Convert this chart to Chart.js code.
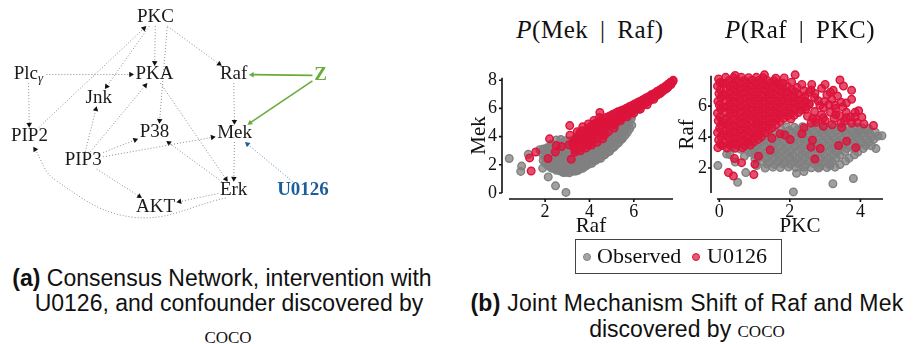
<!DOCTYPE html>
<html>
<head>
<meta charset="utf-8">
<title>Consensus network and joint mechanism shift</title>
<script src="https://cdn.jsdelivr.net/npm/chart.js@4.4.1/dist/chart.umd.min.js"></script>
<style>
  body { margin: 0; background: #fff; }
  #page { position: relative; width: 913px; height: 344px; overflow: hidden; color: #111; }
  canvas { position: absolute; }
  #network { left: 0; top: 0; }
  #mekRaf { left: 460px; top: 55px; }
  #rafPkc { left: 670px; top: 55px; }
  .plot-title { position: absolute; top: 17px; width: 220px; text-align: center; white-space: nowrap;
    font: 25px "Liberation Serif", "Times New Roman", serif; line-height: 1; letter-spacing: 0.5px; word-spacing: 5px; }
  .caption { position: absolute; width: 600px; text-align: center; white-space: nowrap;
    font: 23px "Liberation Sans", sans-serif; line-height: 1; }
  .sc { font: 24px "Liberation Serif", "Times New Roman", serif; font-variant: small-caps; }
  #legend { position: absolute; left: 575px; top: 239px; width: 207px; height: 35px; box-sizing: border-box;
    border: 1px solid #444; font: 22px "Liberation Serif", "Times New Roman", serif; line-height: 1; }
  #legend span { position: absolute; }
  .dot { width: 6px; height: 6px; border-radius: 50%; border: 1.3px solid; }
</style>
</head>
<body>
<div id="page">
  <canvas id="network" width="350" height="230"></canvas>
  <canvas id="mekRaf" width="225" height="185"></canvas>
  <canvas id="rafPkc" width="243" height="185"></canvas>

  <div class="plot-title" style="left:480px"><i>P</i>(Mek | Raf)</div>
  <div class="plot-title" style="left:690px"><i>P</i>(Raf | PKC)</div>

  <div id="legend">
    <span class="dot" style="left:7px;top:13px;background:rgba(128,128,128,0.7);border-color:#808080"></span>
    <span style="left:21px;top:5px">Observed</span>
    <span class="dot" style="left:116px;top:13px;background:rgba(220,20,60,0.7);border-color:#dc143c"></span>
    <span style="left:131px;top:5px">U0126</span>
  </div>

  <div class="caption" style="left:-78px;top:267px"><b>(a)</b> Consensus Network, intervention with</div>
  <div class="caption" style="left:-71px;top:292px">U0126, and confounder discovered by</div>
  <div class="caption sc" style="left:-72px;top:322px">coco</div>
  <div class="caption" style="left:387px;top:292px;letter-spacing:0.25px"><b>(b)</b> Joint Mechanism Shift of Raf and Mek</div>
  <div class="caption" style="left:387px;top:316px">discovered by <span class="sc">coco</span></div>
</div>

<script>
const SERIF = '"Liberation Serif", "Times New Roman", serif';

// ---------- network: node layout and edges ----------
const nodeNames = ['PKC', 'Plcγ', 'PKA', 'Raf', 'Z', 'Jnk', 'PIP2', 'P38', 'Mek', 'PIP3', 'Erk', 'U0126', 'AKT'];
const nodeX = [155, 25, 154, 235, 324, 97, 26, 154, 236, 81, 235, 306, 155];
const nodeY = [14, 73, 73, 73, 74, 97, 137, 133, 134, 162, 193, 193, 210];

const causalEdges = [
  ['PKC', 'PKA'], ['PKC', 'Raf'], ['PKC', 'Jnk'], ['PKC', 'P38'], ['PIP2', 'PKC'],
  ['Plcγ', 'PKA'], ['Plcγ', 'PIP2'], ['PKA', 'Erk'], ['Raf', 'Mek'], ['Mek', 'Erk'],
  ['PIP3', 'Jnk'], ['PIP3', 'PKA'], ['PIP3', 'P38'], ['PIP3', 'Mek'], ['PIP3', 'AKT'],
  ['Erk', 'P38'], ['Erk', 'AKT'], ['Erk', 'PIP2']
];
const confounderEdges = [['Z', 'Raf'], ['Z', 'Mek']];
const interventionEdges = [['U0126', 'Mek']];

// edges that leave / enter a label off-centre or bend around the others
const edgeRouting = {
  'PKC>P38': { tail: [12, 10], head: [5, -9] },
  'Erk>PIP2': { tail: [-8, 8], via: [[133, 221], [52, 182]], head: [4, 11] }
};

// ---------- scatter data: (Raf, Mek) ----------
const rafTicks = [2, 4, 6];
const mekTicks = [0, 2, 4, 6, 8];

const obsRafMek = [
  // stray observations
  [0.38,2.45],[0.94,1.91],[0.90,1.53],[1.24,2.74],[1.76,3.07],[1.89,1.76],[2.14,1.14],[2.47,0.51],
  [2.94,0.04],[2.82,1.45],[3.39,1.56],[3.80,1.89],[5.45,4.46],[5.38,3.94],[5.90,5.50],[6.23,5.92],
  // main cloud
  [1.91,2.31],[1.89,2.74],[1.92,3.12],
  [2.11,1.96],[2.09,2.41],[2.12,2.84],[2.10,3.21],
  [2.29,1.76],[2.31,2.19],[2.28,2.66],[2.31,3.09],[2.29,3.46],
  [2.51,1.61],[2.49,2.06],[2.52,2.49],[2.50,2.96],[2.48,3.39],[2.51,3.76],
  [2.69,1.56],[2.71,1.99],[2.70,2.46],[2.72,2.89],[2.69,3.36],[2.71,3.79],
  [2.91,1.46],[2.89,1.91],[2.92,2.34],[2.90,2.81],[2.88,3.24],[2.91,3.71],
  [3.09,1.44],[3.11,1.91],[3.10,2.36],[3.12,2.79],[3.09,3.26],[3.11,3.69],
  [3.31,1.56],[3.29,1.99],[3.32,2.46],[3.30,2.89],[3.28,3.36],[3.31,3.79],
  [3.49,1.61],[3.51,2.06],[3.50,2.49],[3.52,2.96],[3.49,3.41],[3.51,3.84],
  [3.71,1.76],[3.69,2.21],[3.72,2.64],[3.70,3.11],[3.68,3.54],[3.71,4.01],
  [3.89,1.96],[3.91,2.39],[3.90,2.86],[3.92,3.29],[3.89,3.76],[3.91,4.14],
  [4.11,2.11],[4.09,2.56],[4.12,2.99],[4.10,3.46],[4.08,3.89],[4.11,4.31],
  [4.29,2.31],[4.31,2.74],[4.30,3.21],[4.32,3.64],[4.29,4.11],[4.31,4.44],
  [4.51,2.46],[4.49,2.91],[4.52,3.34],[4.50,3.81],[4.48,4.24],[4.51,4.61],
  [4.69,2.71],[4.71,3.14],[4.70,3.61],[4.72,4.04],[4.69,4.51],
  [4.91,2.96],[4.89,3.39],[4.92,3.86],[4.90,4.29],[4.88,4.76],
  [5.11,3.26],[5.09,3.69],[5.12,4.16],[5.10,4.59],[5.08,5.01],
  [5.31,3.56],[5.29,4.01],[5.32,4.44],[5.30,4.91],
  [5.49,3.86],[5.51,4.29],[5.50,4.76],[5.52,5.14],
  [5.71,4.31],[5.69,4.76],[5.72,5.19],
  [5.91,4.81],[5.89,5.29],
  [2.01,2.12],[1.99,2.57],[2.02,2.98],
  [2.21,1.88],[2.19,2.36],[2.22,2.79],[2.20,3.27],
  [2.41,1.74],[2.39,2.21],[2.42,2.63],[2.40,3.12],
  [2.61,1.66],[2.59,2.09],[2.62,2.56],[2.60,2.98],
  [2.81,1.54],[2.79,2.02],[2.82,2.44],[2.80,2.91],
  [3.01,1.52],[2.99,1.94],[3.02,2.41],[3.00,2.84],
  [3.21,1.54],[3.19,2.02],[3.22,2.44],[3.20,2.92],
  [3.41,1.66],[3.39,2.09],[3.42,2.56],[3.40,2.98],
  [3.61,1.74],[3.59,2.22],[3.62,2.64],[3.60,3.12],
  [3.81,1.96],[3.79,2.39],[3.82,2.86],[3.80,3.28],
  [4.01,2.09],[3.99,2.56],[4.02,2.98],[4.00,3.46],
  [4.21,2.31],[4.19,2.74],[4.22,3.21],[4.20,3.63],
  [4.41,2.44],[4.39,2.92],[4.42,3.34],[4.40,3.81],
  [4.61,2.66],[4.59,3.09],[4.62,3.56],[4.60,3.98],
  [4.81,2.89],[4.79,3.36],[4.82,3.78],[4.80,4.26],
  [5.01,3.16],[4.99,3.58],[5.02,4.06],[5.00,4.48],
  [5.21,3.44],[5.19,3.91],[5.22,4.33],[5.20,4.81],
  [5.41,3.76],[5.39,4.18],[5.42,4.66],
  [5.61,4.09],[5.59,4.56],[5.62,4.98],
  [5.81,4.56],[5.79,4.98]
];

const u0126RafMek = [
  // stray intervened samples
  [1.30,2.49],[1.37,1.56],[1.58,2.91],[2.13,2.45],[2.20,3.84],[2.50,3.36],[2.46,2.91],[3.18,2.39],
  [3.11,4.78],[3.08,3.42],[3.12,4.10],[3.95,3.40],[4.47,5.71],[4.70,4.14],[5.15,4.85],[5.60,5.47],[2.74,3.30],
  [3.45,4.35],[3.70,4.70],[3.95,4.90],[4.20,5.15],[4.45,5.35],[3.35,2.90],[3.60,3.00],[3.85,3.20],
  [4.10,3.40],[4.35,3.60],[4.60,3.85],[3.25,3.50],[3.40,3.85],
  // tight band along Mek ~ Raf
  [3.30,3.22],[3.31,3.71],[3.42,3.52],[3.44,3.96],[3.55,3.41],[3.54,3.83],[3.57,4.27],[3.68,3.66],[3.69,4.06],[3.66,4.41],
  [3.80,3.57],[3.82,3.92],[3.79,4.31],[3.93,3.81],[3.94,4.16],[3.91,4.56],[4.05,3.96],[4.06,4.36],[4.04,4.71],
  [4.18,4.12],[4.19,4.51],[4.17,4.86],[4.30,4.26],[4.31,4.62],[4.29,4.96],[4.43,4.37],[4.44,4.73],[4.42,5.06],
  [4.55,4.51],[4.56,4.86],[4.54,5.16],[4.68,4.62],[4.69,4.96],[4.67,5.31],[4.80,4.71],[4.81,5.06],[4.79,5.38],
  [4.93,4.86],[4.94,5.21],[4.92,5.46],[5.05,4.96],[5.06,5.31],[5.04,5.56],[5.18,5.06],[5.19,5.41],[5.17,5.66],
  [5.30,5.21],[5.31,5.51],[5.29,5.76],[5.43,5.31],[5.44,5.61],[5.42,5.83],[5.55,5.43],[5.56,5.71],[5.54,5.91],
  [5.68,5.56],[5.69,5.81],[5.67,6.01],[5.80,5.66],[5.81,5.91],[5.79,6.11],[5.93,5.79],[5.94,6.03],[5.92,6.21],
  [6.05,5.91],[6.06,6.13],[6.04,6.31],[6.18,6.01],[6.19,6.26],[6.17,6.41],[6.30,6.16],[6.31,6.36],[6.29,6.51],
  [6.43,6.26],[6.44,6.49],[6.42,6.61],[6.55,6.39],[6.56,6.61],[6.54,6.73],[6.68,6.51],[6.69,6.73],[6.67,6.83],
  [6.80,6.66],[6.81,6.86],[6.79,6.96],[6.93,6.81],[6.94,6.99],[6.92,7.06],[7.05,6.93],[7.06,7.11],[7.04,7.19],
  [7.18,7.06],[7.19,7.23],[7.17,7.31],[7.30,7.21],[7.31,7.36],[7.29,7.43],[7.43,7.36],[7.44,7.49],[7.42,7.56],
  [7.55,7.51],[7.56,7.63],[7.54,7.71],[7.68,7.69],[7.67,7.79],[7.66,7.86],[7.76,7.91],[7.78,7.99],
  [3.36,3.05],[3.61,3.21],[3.86,3.42],[4.11,3.62],[4.36,3.86],[4.61,4.11],[4.86,4.36],[5.11,4.61],
  [5.40,5.12],[5.70,5.40],[6.00,5.66],[6.30,5.95],[6.60,6.26],[6.90,6.64],[7.20,7.08],[7.50,7.44]
];

// ---------- scatter data: (PKC, Raf) ----------
const pkcTicks = [0, 2, 4];
const rafAxisTicks = [2, 4, 6];

const obsPkcRaf = [
  // stray observations
  [-0.04,2.16],[0.52,1.08],[0.75,1.71],[2.10,0.46],[2.19,1.66],[2.40,1.78],[3.22,0.99],[3.80,1.33],
  [4.44,3.26],[4.61,4.09],[4.42,4.32],[4.23,4.55],[4.04,4.61],[3.90,4.22],[1.30,2.00],[0.30,2.87],
  [0.45,2.39],[2.81,2.00],[3.14,2.16],[1.06,2.16],
  [0.21,2.91],[0.36,3.36],[0.61,3.21],[0.71,2.76],[0.86,3.01],[1.01,2.61],[0.46,3.60],[0.75,3.50],
  // main cloud
  [1.52,2.06],[1.73,2.03],[1.96,2.07],[2.17,2.04],[2.40,2.06],[2.61,2.02],[2.84,2.07],[3.05,2.04],[3.28,2.06],
  [1.36,2.26],[1.58,2.23],[1.81,2.27],[2.02,2.24],[2.25,2.26],[2.46,2.22],[2.69,2.27],[2.90,2.24],[3.13,2.26],[3.42,2.23],
  [1.21,2.46],[1.43,2.43],[1.66,2.47],[1.87,2.44],[2.10,2.46],[2.31,2.42],[2.54,2.47],[2.75,2.44],[2.98,2.46],[3.19,2.43],[3.58,2.45],
  [1.11,2.66],[1.32,2.63],[1.55,2.67],[1.76,2.64],[1.99,2.66],[2.20,2.62],[2.43,2.67],[2.64,2.64],[2.87,2.66],[3.08,2.63],[3.31,2.66],[3.68,2.64],
  [1.01,2.86],[1.22,2.83],[1.45,2.87],[1.66,2.84],[1.89,2.86],[2.10,2.82],[2.33,2.87],[2.54,2.84],[2.77,2.86],[2.98,2.83],[3.21,2.86],[3.42,2.83],[3.83,2.86],
  [0.91,3.06],[1.13,3.03],[1.36,3.07],[1.57,3.04],[1.80,3.06],[2.01,3.02],[2.24,3.07],[2.45,3.04],[2.68,3.06],[2.89,3.03],[3.12,3.06],[3.33,3.03],[3.56,3.06],[3.93,3.04],
  [0.96,3.26],[1.18,3.23],[1.41,3.27],[1.62,3.24],[1.85,3.26],[2.06,3.22],[2.29,3.27],[2.50,3.24],[2.73,3.26],[2.94,3.23],[3.17,3.26],[3.38,3.23],[3.61,3.26],[3.82,3.23],[4.08,3.26],
  [1.06,3.46],[1.28,3.43],[1.51,3.47],[1.72,3.44],[1.95,3.46],[2.16,3.42],[2.39,3.47],[2.60,3.44],[2.83,3.46],[3.04,3.43],[3.27,3.46],[3.48,3.43],[3.71,3.46],[3.92,3.43],[4.15,3.46],[4.31,3.44],
  [1.16,3.66],[1.38,3.63],[1.61,3.67],[1.82,3.64],[2.05,3.66],[2.26,3.62],[2.49,3.67],[2.70,3.64],[2.93,3.66],[3.14,3.63],[3.37,3.66],[3.58,3.63],[3.81,3.66],[4.02,3.63],[4.25,3.66],
  [1.31,3.86],[1.53,3.83],[1.76,3.87],[1.97,3.84],[2.20,3.86],[2.41,3.82],[2.64,3.87],[2.85,3.84],[3.08,3.86],[3.29,3.83],[3.52,3.86],[3.73,3.83],[3.96,3.86],[4.17,3.83],[4.38,3.86],
  [1.46,4.06],[1.68,4.03],[1.91,4.07],[2.12,4.04],[2.35,4.06],[2.56,4.02],[2.79,4.07],[3.00,4.04],[3.23,4.06],[3.44,4.03],[3.67,4.06],[3.88,4.03],[4.11,4.06],[4.32,4.03],[4.50,4.06],
  [1.61,4.26],[1.83,4.23],[2.06,4.27],[2.27,4.24],[2.50,4.26],[2.71,4.22],[2.94,4.27],[3.15,4.24],[3.38,4.26],[3.59,4.23],[3.82,4.26],[4.03,4.23],[4.26,4.26],
  [1.76,4.46],[1.98,4.43],[2.21,4.47],[2.42,4.44],[2.65,4.46],[2.86,4.42],[3.09,4.47],[3.30,4.44],[3.53,4.46],[3.74,4.43],[3.97,4.46],[4.18,4.43],
  [1.91,4.66],[2.13,4.63],[2.36,4.67],[2.57,4.64],[2.80,4.66],[3.01,4.62],[3.24,4.67],[3.45,4.64],[3.68,4.66],[3.92,4.63]
];

const u0126PkcRaf = [
  // samples piled up at PKC ~ 0
  [-0.04,3.32],[0.03,3.55],[-0.02,3.81],[0.05,4.04],[-0.05,4.29],[0.01,4.57],[0.06,4.79],[-0.03,5.06],
  [0.02,5.31],[-0.05,5.54],[0.04,5.82],[0.00,6.07],[-0.04,6.31],[0.05,6.56],[-0.01,6.82],[0.03,7.06],
  [-0.05,7.29],[0.02,7.53],[-0.02,7.76],[0.09,3.46],[0.11,4.22],[0.08,5.02],[0.12,5.93],[0.10,6.71],[0.09,7.48],
  // dense block at low PKC
  [0.18,7.86],[0.40,7.83],[0.62,7.87],[0.83,7.84],[1.05,7.86],[1.24,7.83],
  [0.28,7.66],[0.50,7.68],[0.71,7.64],[0.93,7.67],[1.12,7.65],[1.35,7.68],[1.55,7.64],
  [0.19,7.47],[0.39,7.45],[0.61,7.49],[0.80,7.46],[1.03,7.48],[1.22,7.45],[1.44,7.49],[1.63,7.46],[1.80,7.48],
  [0.30,7.28],[0.49,7.30],[0.72,7.26],[0.91,7.29],[1.13,7.27],[1.32,7.30],[1.53,7.26],[1.74,7.29],[1.93,7.27],
  [0.20,7.09],[0.41,7.07],[0.60,7.11],[0.82,7.08],[1.01,7.10],[1.23,7.07],[1.42,7.11],[1.64,7.08],[1.83,7.10],[2.05,7.07],
  [0.29,6.90],[0.51,6.92],[0.70,6.88],[0.92,6.91],[1.11,6.89],[1.33,6.92],[1.52,6.88],[1.74,6.91],[1.93,6.89],[2.15,6.92],
  [0.18,6.71],[0.40,6.69],[0.61,6.73],[0.81,6.70],[1.02,6.72],[1.22,6.69],[1.43,6.73],[1.62,6.70],[1.84,6.72],[2.03,6.69],[2.25,6.73],
  [0.30,6.52],[0.50,6.54],[0.71,6.50],[0.92,6.53],[1.12,6.51],[1.33,6.54],[1.52,6.50],[1.73,6.53],[1.94,6.51],[2.13,6.54],[2.35,6.50],
  [0.20,6.33],[0.39,6.31],[0.60,6.35],[0.82,6.32],[1.01,6.34],[1.22,6.31],[1.43,6.35],[1.63,6.32],[1.82,6.34],[2.04,6.31],[2.24,6.35],[2.45,6.32],
  [0.29,6.14],[0.50,6.16],[0.70,6.12],[0.91,6.15],[1.12,6.13],[1.32,6.16],[1.53,6.12],[1.72,6.15],[1.93,6.13],[2.14,6.16],[2.34,6.12],[2.55,6.15],
  [0.19,5.95],[0.40,5.93],[0.61,5.97],[0.80,5.94],[1.02,5.96],[1.21,5.93],[1.42,5.97],[1.63,5.94],[1.83,5.96],[2.02,5.93],[2.23,5.97],[2.44,5.94],
  [0.30,5.76],[0.49,5.78],[0.72,5.74],[0.91,5.77],[1.11,5.75],[1.32,5.78],[1.52,5.74],[1.73,5.77],[1.92,5.75],[2.13,5.78],[2.33,5.74],
  [0.20,5.57],[0.41,5.55],[0.60,5.59],[0.82,5.56],[1.01,5.58],[1.23,5.55],[1.42,5.59],[1.62,5.56],[1.83,5.58],[2.02,5.55],[2.24,5.59],
  [0.29,5.38],[0.50,5.40],[0.71,5.36],[0.90,5.39],[1.12,5.37],[1.31,5.40],[1.53,5.36],[1.72,5.39],[1.93,5.37],[2.12,5.40],
  [0.18,5.19],[0.40,5.17],[0.62,5.21],[0.81,5.18],[1.02,5.20],[1.22,5.17],[1.41,5.21],[1.63,5.18],[1.82,5.20],[2.03,5.17],
  [0.30,5.00],[0.51,5.02],[0.70,4.98],[0.92,5.01],[1.11,4.99],[1.32,5.02],[1.51,4.98],[1.72,5.01],
  [0.20,4.81],[0.39,4.79],[0.61,4.83],[0.80,4.80],[1.03,4.82],[1.22,4.79],[1.42,4.83],[1.60,4.80],
  [0.29,4.62],[0.50,4.64],[0.71,4.60],[0.92,4.63],[1.12,4.61],[1.31,4.64],[1.50,4.60],
  [0.19,4.43],[0.41,4.41],[0.60,4.45],[0.82,4.42],[1.01,4.44],[1.21,4.41],[1.40,4.45],
  [0.30,4.24],[0.49,4.26],[0.70,4.22],[0.91,4.25],[1.12,4.23],[1.30,4.26],
  [0.20,4.05],[0.40,4.03],[0.62,4.07],[0.81,4.04],[1.02,4.06],[1.20,4.03],
  [0.29,3.86],[0.50,3.88],[0.70,3.84],[0.92,3.87],[1.10,3.85],
  [0.19,3.67],[0.40,3.65],[0.61,3.69],[0.82,3.66],[0.98,3.68],
  [0.30,3.48],[0.50,3.50],[0.71,3.46],[0.88,3.49],
  [0.22,3.30],[0.45,3.28],[0.66,3.31],
  // looser spread towards higher PKC
  [2.34,7.40],[2.62,7.40],[3.00,7.40],[3.42,7.69],[3.52,7.30],[3.75,7.02],[3.23,7.02],[3.05,6.73],
  [2.71,6.82],[2.43,6.63],[3.75,6.44],[3.45,6.25],[3.19,6.44],[3.71,5.29],[4.04,5.29],[4.37,4.75],
  [3.75,4.90],[3.47,4.61],[2.15,8.02],[1.84,7.82],[1.28,8.02],[0.45,7.98],
  [2.55,6.10],[2.80,6.35],[2.95,5.90],[3.10,6.10],[3.30,5.85],[3.50,5.95],[2.70,5.65],[2.90,5.45],
  [3.15,5.60],[3.40,5.40],[3.60,5.60],[2.50,5.35],[2.75,5.15],[3.00,5.05],[3.25,5.20],[3.55,5.05],
  [3.85,5.60],[2.60,4.90],[2.95,4.70],[3.20,4.80],[2.40,4.60],[2.85,6.05],[3.35,6.65],[2.60,7.05],
  [2.90,7.15],[2.20,7.20],[2.05,7.55],[1.60,7.80],[2.45,5.80],[3.90,4.95],[4.10,4.85],
  [2.70,6.55],[2.98,6.30],[3.28,6.05],[3.60,6.20],[2.65,5.20],[2.95,5.25],[3.30,5.45],[3.60,5.25],
  [2.75,4.95],[3.45,4.90],[3.85,5.30],[3.95,5.70],[2.55,6.90],[3.15,6.90],[2.40,7.00],
  // stragglers below the block
  [3.61,3.74],[3.87,3.32],[3.38,3.45],[2.86,3.26],[2.64,3.80],[2.71,2.58],[2.60,3.35],[2.34,4.22],
  [2.01,3.84],[1.86,4.13],[1.72,4.22],[1.11,2.77],[1.01,2.24],[0.98,1.58],[0.63,2.35],[0.43,2.62],
  [0.26,1.71],[0.40,1.48],[1.44,3.16],[1.49,3.93]
];

// ---------- network panel ----------
const ARROW = 3.2;
const measureCtx = document.createElement('canvas').getContext('2d');

function labelFont(name) {
  return (name === 'Z' || name === 'U0126') ? 'bold 19px ' + SERIF : '19px ' + SERIF;
}

function halfBox(name) {
  measureCtx.font = labelFont(name);
  return [measureCtx.measureText(name).width / 2 + 2, 9];
}

// walk from p towards q until the point leaves p's label box
function trim(p, q, box) {
  const dx = q[0] - p[0], dy = q[1] - p[1];
  const t = Math.min(dx ? box[0] / Math.abs(dx) : Infinity, dy ? box[1] / Math.abs(dy) : Infinity);
  return [p[0] + dx * t, p[1] + dy * t];
}

function edgeDataset(pair, color, arrowColor, dash, width) {
  const [a, b] = pair;
  const i = nodeNames.indexOf(a), j = nodeNames.indexOf(b);
  const route = edgeRouting[a + '>' + b] || {};
  const via = route.via || [];
  const from = [nodeX[i], nodeY[i]], to = [nodeX[j], nodeY[j]];
  const start = route.tail ? [from[0] + route.tail[0], from[1] + route.tail[1]]
                           : trim(from, via.length ? via[0] : to, halfBox(a));
  const end = route.head ? [to[0] + route.head[0], to[1] + route.head[1]]
                         : trim(to, via.length ? via[via.length - 1] : from, halfBox(b));
  const prev = via.length ? via[via.length - 1] : start;
  let dx = end[0] - prev[0], dy = end[1] - prev[1];
  const len = Math.hypot(dx, dy);
  dx /= len; dy /= len;
  const head = [end[0] - dx * ARROW, end[1] - dy * ARROW];
  const pts = [start, ...via, head].map(([x, y]) => ({ x, y }));
  const last = pts.length - 1;
  return {
    data: pts,
    showLine: true,
    borderColor: color,
    borderWidth: width,
    borderDash: dash,
    tension: via.length ? 0.4 : 0,
    pointStyle: 'triangle',
    pointRadius: c => (c.dataIndex === last ? ARROW : 0),
    pointRotation: Math.atan2(dx, -dy) * 180 / Math.PI,
    pointBackgroundColor: arrowColor,
    pointBorderWidth: 0
  };
}

const nodeLabels = {
  id: 'nodeLabels',
  afterDatasetsDraw(chart) {
    const { ctx, scales: { x, y } } = chart;
    ctx.save();
    ctx.textBaseline = 'middle';
    nodeNames.forEach((name, k) => {
      const px = x.getPixelForValue(nodeX[k]);
      const py = y.getPixelForValue(nodeY[k]);
      ctx.font = labelFont(name);
      ctx.fillStyle = name === 'Z' ? '#6aab3c' : name === 'U0126' ? '#1d5e99' : '#1a1a1a';
      if (name === 'Plcγ') {
        const w1 = ctx.measureText('Plc').width;
        ctx.font = 'italic 13px ' + SERIF;
        const w2 = ctx.measureText('γ').width;
        const left = px - (w1 + w2) / 2;
        ctx.textAlign = 'left';
        ctx.fillText('γ', left + w1, py + 4);
        ctx.font = labelFont(name);
        ctx.fillText('Plc', left, py);
      } else {
        ctx.textAlign = 'center';
        ctx.fillText(name, px, py);
      }
    });
    ctx.restore();
  }
};

const networkSets = [
  ...causalEdges.map(e => edgeDataset(e, '#8c8c8c', '#111', [1, 2], 1)),
  ...confounderEdges.map(e => edgeDataset(e, '#6aab3c', '#6aab3c', [], 1.6)),
  ...interventionEdges.map(e => edgeDataset(e, '#5b8fc2', '#1d5e99', [1, 2], 1))
];

new Chart(document.getElementById('network'), {
  type: 'scatter',
  data: { datasets: networkSets },
  options: {
    responsive: false,
    animation: false,
    events: [],
    layout: { padding: 0 },
    plugins: { legend: { display: false }, tooltip: { enabled: false } },
    scales: {
      x: { type: 'linear', min: 0, max: 350, display: false },
      y: { type: 'linear', min: 0, max: 230, reverse: true, display: false }
    }
  },
  plugins: [nodeLabels]
});

// ---------- scatter panels ----------
// seaborn-like detached spines: axis lines pushed a few pixels away from the data area
const offsetSpines = {
  id: 'offsetSpines',
  beforeDatasetsDraw(chart, args, opts) {
    const { ctx, chartArea: a, scales: { x, y } } = chart;
    const sx = a.left - opts.gapY, sy = a.bottom + opts.gapX;
    ctx.save();
    ctx.strokeStyle = '#111';
    ctx.lineWidth = 1.6;
    ctx.beginPath();
    ctx.moveTo(sx, a.top); ctx.lineTo(sx, a.bottom);
    ctx.moveTo(a.left, sy); ctx.lineTo(a.right, sy);
    y.ticks.forEach(t => { const p = y.getPixelForValue(t.value); ctx.moveTo(sx, p); ctx.lineTo(sx - 3, p); });
    x.ticks.forEach(t => { const p = x.getPixelForValue(t.value); ctx.moveTo(p, sy); ctx.lineTo(p, sy + 3); });
    ctx.stroke();
    ctx.restore();
  }
};

const tickFont = { family: SERIF, size: 18 };
const titleFont = { family: SERIF, size: 21 };
const toXY = pts => pts.map(([x, y]) => ({ x, y }));

function pointSet(label, pts, fill, edge, order) {
  return {
    label, data: toXY(pts), order, clip: false,
    backgroundColor: fill, borderColor: edge,
    pointRadius: 3.8, pointBorderWidth: 1.4
  };
}

function scatterPanel(id, cfg) {
  new Chart(document.getElementById(id), {
    type: 'scatter',
    data: {
      datasets: [
        pointSet('U0126', cfg.u0126, 'rgba(220,20,60,0.75)', '#dc143c', 0),
        pointSet('Observed', cfg.observed, 'rgba(128,128,128,0.75)', '#808080', 1)
      ]
    },
    options: {
      responsive: false,
      animation: false,
      events: [],
      layout: { padding: { left: 0, top: 7, right: cfg.rightPad, bottom: 0 } },
      plugins: {
        legend: { display: false },
        tooltip: { enabled: false },
        offsetSpines: { gapX: 6, gapY: cfg.gapY }
      },
      scales: {
        x: {
          type: 'linear', min: cfg.xRange[0], max: cfg.xRange[1],
          grid: { display: false, drawTicks: false },
          border: { display: false },
          ticks: { padding: 8, font: tickFont, color: '#111' },
          title: { display: true, text: cfg.xTitle, font: titleFont, color: '#111', padding: { top: 0, bottom: 1 } },
          afterBuildTicks: s => { s.ticks = cfg.xTicks.map(v => ({ value: v })); },
          afterFit: s => { s.height = 47; }
        },
        y: {
          type: 'linear', min: cfg.yRange[0], max: cfg.yRange[1],
          grid: { display: false, drawTicks: false },
          border: { display: false },
          ticks: { padding: cfg.yTickPad, font: tickFont, color: '#111' },
          title: { display: true, text: cfg.yTitle, font: titleFont, color: '#111', padding: { top: cfg.yTitlePad, bottom: 0 } },
          afterBuildTicks: s => { s.ticks = cfg.yTicks.map(v => ({ value: v })); },
          afterFit: s => { s.width = cfg.yWidth; }
        }
      }
    },
    plugins: [offsetSpines]
  });
}

scatterPanel('mekRaf', {
  observed: obsRafMek, u0126: u0126RafMek,
  xTitle: 'Raf', yTitle: 'Mek', xTicks: rafTicks, yTicks: mekTicks,
  xRange: [0.37, 7.77], yRange: [0, 8.17],
  yWidth: 49, rightPad: 12, gapY: 7, yTickPad: 12, yTitlePad: 7
});

scatterPanel('rafPkc', {
  observed: obsPkcRaf, u0126: u0126PkcRaf,
  xTitle: 'PKC', yTitle: 'Raf', xTicks: pkcTicks, yTicks: rafAxisTicks,
  xRange: [-0.065, 4.64], yRange: [0.39, 7.96],
  yWidth: 47, rightPad: 30, gapY: 6, yTickPad: 10, yTitlePad: 5
});
</script>
</body>
</html>
